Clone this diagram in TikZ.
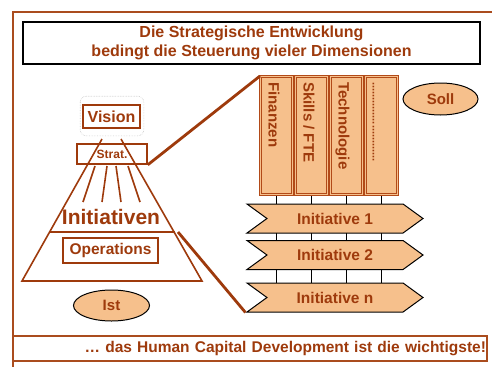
\documentclass[tikz,border=0pt]{standalone}
\usepackage{fontspec}
\setmainfont{Liberation Sans}
\usetikzlibrary{positioning,shapes.geometric,shapes.symbols,backgrounds}
\definecolor{rust}{RGB}{158,58,12}
\definecolor{framebrown}{RGB}{170,76,30}
\definecolor{pillarbrown}{RGB}{178,74,24}
\definecolor{peach}{RGB}{246,192,140}
\newcommand{\fs}[1]{\fontsize{#1}{#1}\selectfont\bfseries}
\begin{document}
\begin{tikzpicture}[x=1pt,y=-1pt]
	\tikzstyle{outline} = [draw=framebrown, line width=1.2pt]
	\tikzstyle{level} = [draw=rust, line width=1.6pt, rectangle, inner sep=0pt, text=rust]
	\tikzstyle{pyr} = [draw=rust, line width=1.6pt]
	\tikzstyle{link} = [draw=rust, line width=2.8pt]
	\tikzstyle{halo} = [draw=gray!45, densely dotted, rounded corners=6pt, line width=0.6pt]
	\tikzstyle{state} = [draw=black, line width=1pt, fill=peach, ellipse, minimum width=76pt, minimum height=31pt, inner sep=0pt, text=rust, font=\fs{15}]
	\tikzstyle{pillar} = [draw=pillarbrown, double=peach, double distance=1.3pt, line width=1pt, fill=peach, rectangle, minimum width=32pt, minimum height=118pt, inner sep=0pt, node distance=35pt]
	\tikzstyle{pillartext} = [rotate=-90, anchor=base west, inner sep=0pt, text=rust, font=\fs{15}]
	\tikzstyle{initiative} = [draw=black, line width=1pt, fill=peach, signal, signal to=east, signal from=west, signal pointer angle=72, minimum width=176pt, minimum height=29pt, inner sep=0pt, text=rust, font=\fs{15.5}]

	\useasboundingbox (0,0) rectangle (492,367);

	% frame and headline
	\draw[outline] (492,12) -- (13,12) -- (13,367);
	\node[draw=black, line width=1.2pt, minimum width=457pt, minimum height=42pt, inner sep=0pt, align=center, text=rust, font=\fontsize{16}{19.5}\selectfont\bfseries] (title) at (251.5,43) {Die Strategische Entwicklung\\bedingt die Steuerung vieler Dimensionen};
	\node[outline, minimum width=474pt, minimum height=25pt, inner xsep=1pt, inner ysep=0pt, text width=472pt, align=right, text=rust, font=\fs{15.5}] (claim) at (250,348.5) {\dots\ das Human Capital Development ist die wichtigste!};

	% pyramid (Ist)
	\node[level, minimum width=57pt, minimum height=23pt, font=\fs{16}] (vision) at (111.5,116.5) {Vision};
	\draw[halo] ([shift={(-2,-8)}]vision.north west) rectangle ([shift={(3,7)}]vision.south east);
	\node[level, minimum width=70pt, minimum height=20pt, font=\fs{12}] (strat) at (112,154) {Strat.};
	\draw[pyr] (102,139) -- (22,281) -- (202,281) -- (121,139);
	\draw[pyr] (49.6,232) -- (174.5,232);
	\foreach \top/\bot in {95/83,107/102,116/121,128/140}
		\draw[pyr] (\top,166) -- (\bot,202);
	\node[text=rust, inner sep=0pt, font=\fs{21}] (initv) at (111,217) {Initiativen};
	\node[level, minimum width=95pt, minimum height=25pt, font=\fs{15.5}] (ops) at (110.5,250.5) {Operations};
	\node[state] (ist) at (111.5,305.5) {Ist};
	\coordinate (pyrR) at (178,232);

	% dimensions (Soll)
	\node[state, minimum width=75pt, minimum height=32pt] (soll) at (440.5,99) {Soll};
	\node[pillar] (fin) at (276.5,135.5) {};
	\node[pillar] (skills) [right of=fin] {};
	\node[pillar] (tech) [right of=skills] {};
	\node[pillar] (more) [right of=tech] {};
	\node[pillartext] (finT) at ([shift={(-8,6)}]fin.north) {Finanzen};
	\node[pillartext] (skillsT) at ([shift={(-8,6)}]skills.north) {Skills / FTE};
	\node[pillartext] (techT) at ([shift={(-8,6)}]tech.north) {Technologie};
	\node[pillartext, font=\fs{11}] (moreT) at ([shift={(-9,6)}]more.north) {..........................};

	\node[initiative] (ini1) at (335,218.5) {Initiative 1};
	\node[initiative] (ini2) at (335,255) {Initiative 2};
	\node[initiative] (ini3) at (335,297.5) {Initiative n};

	\begin{scope}[on background layer]
		\foreach \p in {fin,skills,tech,more}
			\draw[black, line width=0.9pt] (\p.south) -- (\p.south |- ini3.north);
	\end{scope}

	\draw[link] (strat.south east) -- (fin.north west);
	\draw[link] (pyrR) -- (ini3.south west);
\end{tikzpicture}
\end{document}
